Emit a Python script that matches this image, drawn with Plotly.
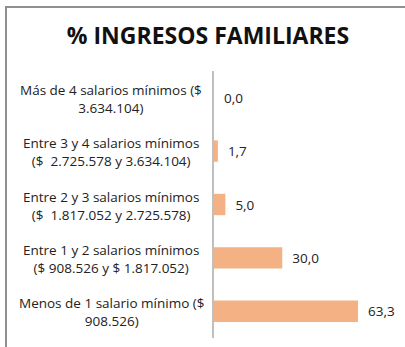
import plotly.graph_objects as go

# Income brackets (top to bottom), two text lines each, and share of families
categorias = [
    "Más de 4 salarios mínimos",
    "Entre 3 y 4 salarios mínimos",
    "Entre 2 y 3 salarios mínimos",
    "Entre 1 y 2 salarios mínimos",
    "Menos de 1 salario mínimo",
]
lineas_1 = [
    "Más de 4 salarios mínimos ($",
    "Entre 3 y 4 salarios mínimos",
    "Entre 2 y 3 salarios mínimos",
    "Entre 1 y 2 salarios mínimos",
    "Menos de 1 salario mínimo ($",
]
lineas_2 = [
    "3.634.104)",
    "($  2.725.578 y 3.634.104)",
    "($  1.817.052 y 2.725.578)",
    "($ 908.526 y $ 1.817.052)",
    "908.526)",
]
porcentajes = [0.0, 1.7, 5.0, 30.0, 63.3]
etiquetas = [f"{v:.1f}".replace(".", ",") for v in porcentajes]

FONT = "Open Sans"
FS = 13.5
W, H = 405, 347
L, R, T, B = 214, 9, 71, 9
pw = W - L - R
ph = H - T - B

fig = go.Figure(
    go.Bar(
        x=porcentajes,
        y=categorias,
        orientation="h",
        marker=dict(color="#F4B183", line=dict(width=0)),
        text=["  " + t for t in etiquetas],
        textposition="outside",
        textfont=dict(family=FONT, size=FS, color="#222222"),
        cliponaxis=False,
        width=0.4,
    )
)

# Category labels: two centered lines per bracket, placed on the category axis
for c, l1, l2 in zip(categorias, lineas_1, lineas_2):
    fig.add_annotation(
        x=(111 - L) / pw, xref="paper", y=c, yref="y",
        text=f"{l1}<br>{l2}", showarrow=False, align="center",
        xanchor="center", yanchor="middle", yshift=-1,
        font=dict(family=FONT, size=FS, color="#222222"),
    )

# Outer chart frame
fig.add_shape(
    type="rect", xref="paper", yref="paper",
    x0=(6 - L) / pw, x1=(W + 10 - L) / pw,
    y0=-20 / ph, y1=(H - B - 7) / ph,
    line=dict(color="#8f8f8f", width=2), fillcolor="rgba(0,0,0,0)",
    layer="above",
)

fig.update_layout(
    width=W, height=H,
    margin=dict(l=L, r=R, t=T, b=B),
    paper_bgcolor="white", plot_bgcolor="white",
    showlegend=False,
    title=dict(
        text="<b>% INGRESOS FAMILIARES</b>",
        x=208 / W, xanchor="center",
        y=1 - 36 / H, yanchor="middle",
        font=dict(family=FONT, size=23, color="#111111"),
    ),
    xaxis=dict(range=[0, 80], visible=False, fixedrange=True),
    yaxis=dict(
        autorange="reversed", showticklabels=False, ticks="",
        showline=True, linecolor="#bfbfbf", linewidth=2,
        showgrid=False, zeroline=False,
    ),
    font=dict(family=FONT),
)

fig.write_html("out.html")
